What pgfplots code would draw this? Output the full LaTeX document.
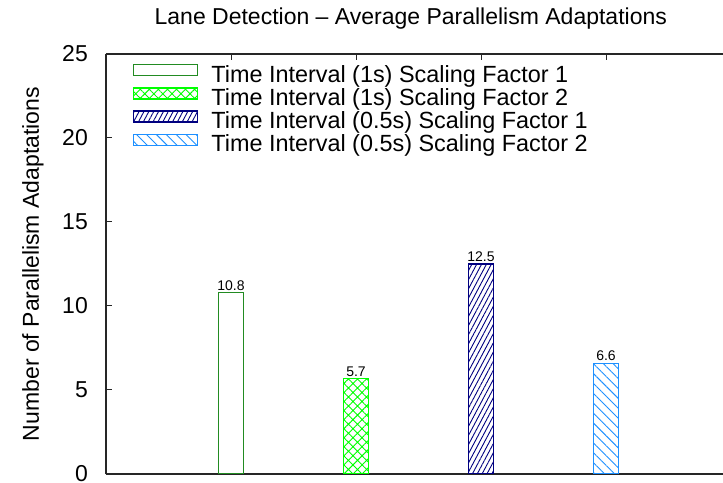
\documentclass[border=0pt]{standalone}
\usepackage{fontspec}
\setmainfont{Liberation Sans}
\usepackage{pgfplots}
\pgfplotsset{compat=1.18}
\usetikzlibrary{patterns.meta}
\definecolor{c1}{HTML}{228B22}
\definecolor{c2}{HTML}{00FF00}
\definecolor{c3}{HTML}{000080}
\definecolor{c4}{HTML}{1E90FF}
\newcommand{\bigf}{\fontsize{23bp}{27bp}\selectfont}
\newcommand{\legf}{\fontsize{23.4bp}{27bp}\selectfont}
\newcommand{\smallf}{\fontsize{14bp}{16bp}\selectfont}
\pgfplotsset{
  mybar/.style={ybar, bar width=25bp, bar shift=0pt, line width=1.2bp,
    legend image code/.code={\draw[##1,line width=1.2bp] (0bp,2.5bp) rectangle (64bp,13.5bp);},
    nodes near coords,
    nodes near coords style={font=\smallf, text=black, anchor=south, inner sep=1.5bp,
      /pgf/number format/.cd, fixed, fixed zerofill, precision=1, assume math mode=true}},
}
\begin{document}
\begin{tikzpicture}
\begin{axis}[
  name=ax,
  at={(0,0)}, anchor=south west,
  scale only axis, width=617bp, height=420bp,
  xmin=0, xmax=4.936, ymin=0, ymax=25,
  axis x line*=box, axis y line*=left,
  axis line style={line width=1.3bp, black!85},
  xtick={1,2,3,4}, xticklabels={}, xtick pos=right,
  ytick={0,5,10,15,20,25}, ytick pos=left,
  tick align=inside, major tick length=6bp,
  tick style={line width=1bp, black!85},
  yticklabel style={font=\bigf, inner sep=0pt, anchor=east, xshift=-18bp},
  /pgf/number format/assume math mode=true,
  ylabel={Number of Parallelism Adaptations},
  ylabel style={font=\bigf, at={(axis description cs:0,0.5)}, anchor=center, yshift=73bp},
  title={Lane Detection – Average Parallelism Adaptations},
  title style={font=\bigf, at={(axis description cs:0.494,1)}, anchor=base, yshift=24bp},
  legend style={at={(axis description cs:0,1)}, anchor=north west, xshift=27bp, yshift=-10bp,
    draw=none, fill=none, font=\legf, row sep=-2.6bp, inner sep=0pt,
    nodes={inner sep=0pt, text height=15.5bp, text depth=7.8bp},
    /tikz/every odd column/.append style={column sep=13bp}},
  legend cell align=left,
]
\addplot[mybar, draw=c1, fill=white] coordinates {(1,10.8)};
\addlegendentry{Time Interval (1s) Scaling Factor 1}
\addplot[mybar, draw=c2, pattern={Hatch[angle=45,distance=6.4bp,line width=0.9bp]}, pattern color=c2] coordinates {(2,5.7)};
\addlegendentry{Time Interval (1s) Scaling Factor 2}
\addplot[mybar, draw=c3, pattern={Lines[angle=62,distance=4.3bp,line width=0.9bp]}, pattern color=c3] coordinates {(3,12.5)};
\addlegendentry{Time Interval (0.5s) Scaling Factor 1}
\addplot[mybar, draw=c4, pattern={Lines[angle=-45,distance=7bp,line width=0.9bp]}, pattern color=c4] coordinates {(4,6.6)};
\addlegendentry{Time Interval (0.5s) Scaling Factor 2}
\end{axis}
\pgfresetboundingbox
\path[use as bounding box] (ax.south west) ++(-106bp,-9bp) rectangle ([yshift=474bp]ax.south east);
\end{tikzpicture}
\end{document}
